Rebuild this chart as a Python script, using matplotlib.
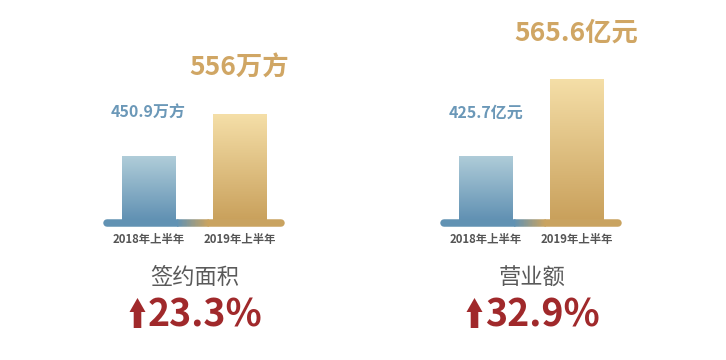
import numpy as np
import matplotlib
matplotlib.use("Agg")
import matplotlib.pyplot as plt
from matplotlib.colors import LinearSegmentedColormap, to_rgb
from matplotlib.collections import LineCollection
from matplotlib.patches import Polygon

plt.rcParams['font.family'] = ['Noto Sans CJK SC', 'DejaVu Sans']

# ---- data ----
categories = ['2018年上半年', '2019年上半年']
titles = ['签约面积', '营业额']
units = ['万方', '亿元']
values_2018 = [450.9, 425.7]
values_2019 = [556, 565.6]
growth = ['23.3%', '32.9%']

# ---- layout / style ----
W, H = 726, 360
axis_floor = [283.3, 303.9]      # truncated value axis start for each panel
axis_span = [500.4, 363.4]
panel_left_px = [94.0, 431.0]
blue_top, blue_bot = '#b0cdd9', '#5d8eb1'
gold_top, gold_bot = '#f5dfa8', '#c89f5a'
line_blue, line_gold = '#6192b3', '#c9a360'
red = '#a0292b'
grey = '#5a5a5a'

fig = plt.figure(figsize=(W / 100, H / 100), dpi=100)


def gradient_bar(ax, patch, top, bot):
    x0, y0 = patch.get_x(), patch.get_y()
    w, h = patch.get_width(), patch.get_height()
    cmap = LinearSegmentedColormap.from_list('g', [bot, top])
    grad = np.linspace(0, 1, 256).reshape(-1, 1)
    im = ax.imshow(grad, cmap=cmap, origin='lower', aspect='auto',
                   extent=(x0, x0 + w, y0, y0 + h), zorder=2)
    im.set_clip_path(patch)
    patch.set_alpha(0)


for p in range(2):
    ax = fig.add_axes([panel_left_px[p] / W, (H - 223) / H, 200 / W, 200 / H])
    ax.set_xlim(-0.6, 1.6)
    ax.set_ylim(axis_floor[p], axis_floor[p] + axis_span[p])
    vals = [values_2018[p], values_2019[p]]
    bars = ax.bar([0, 1], [v - axis_floor[p] for v in vals], bottom=axis_floor[p],
                  width=0.585, zorder=2)
    gradient_bar(ax, bars[0], blue_top, blue_bot)
    gradient_bar(ax, bars[1], gold_top, gold_bot)

    # base line with gradient between the bars
    b = axis_floor[p]
    ax.plot([-0.46, 0.31], [b, b], color=line_blue, lw=5.4,
            solid_capstyle='round', zorder=3, clip_on=False)
    ax.plot([0.66, 1.46], [b, b], color=line_gold, lw=5.4,
            solid_capstyle='round', zorder=3, clip_on=False)
    xs = np.linspace(0.31, 0.66, 40)
    segs = [[(xs[i], b), (xs[i + 1], b)] for i in range(len(xs) - 1)]
    c1, c2 = np.array(to_rgb(line_blue)), np.array(to_rgb(line_gold))
    cols = [c1 + (c2 - c1) * t for t in np.linspace(0, 1, len(segs))]
    ax.add_collection(LineCollection(segs, colors=cols, linewidths=5.4,
                                     capstyle='butt', zorder=3, clip_on=False))

    # value labels
    ax.annotate(f'{values_2018[p]}{units[p]}', xy=(0, vals[0]), xytext=(0, 31),
                textcoords='offset points', ha='center', va='center',
                fontsize=11.5, fontweight='bold', color='#6b98b8')
    ax.annotate(f'{values_2019[p]}{units[p]}', xy=(1, vals[1]), xytext=(0, 33),
                textcoords='offset points', ha='center', va='center',
                fontsize=19, fontweight='bold', color='#d0a664')

    ax.set_xticks([0, 1], categories)
    ax.tick_params(axis='x', length=0, pad=7, labelsize=8.2, labelcolor='#555555')
    for lab in ax.get_xticklabels():
        lab.set_fontweight('bold')
    ax.set_yticks([])
    for s in ax.spines.values():
        s.set_visible(False)
    ax.patch.set_alpha(0)

    # title and growth
    cx = panel_left_px[p] + 100.5
    fig.text(cx / W, 1 - 278 / H, titles[p], ha='center', va='center',
             fontsize=16, color=grey)
    fig.text((cx - 46.5) / W, 1 - 315 / H, growth[p], ha='left', va='center',
             fontsize=27, fontweight='bold', color=red)
    ax_ = cx - 57.0
    pts = [(ax_, 298), (ax_ + 8, 312), (ax_ + 3.8, 312), (ax_ + 3.8, 328),
           (ax_ - 3.8, 328), (ax_ - 3.8, 312), (ax_ - 8, 312)]
    pts_in = [(x / 100, (H - y) / 100) for x, y in pts]
    fig.patches.append(Polygon(pts_in, closed=True, facecolor=red, edgecolor='none',
                               transform=fig.dpi_scale_trans))

fig.savefig('out.png', dpi=100)
